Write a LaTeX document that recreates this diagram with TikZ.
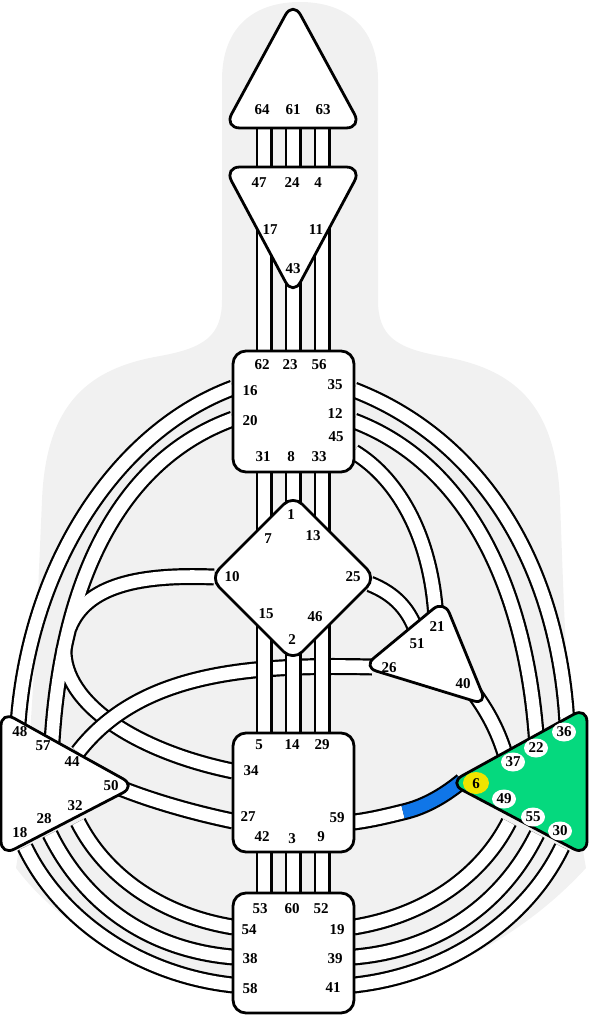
\documentclass[tikz,border=0pt]{standalone}
\usepackage{fontspec}
\setmainfont{Liberation Serif}
\definecolor{bodygray}{RGB}{241,241,241}
\definecolor{spgreen}{RGB}{5,217,126}
\definecolor{gateyellow}{RGB}{240,228,0}
\definecolor{chblue}{RGB}{16,118,232}
\begin{document}
\begin{tikzpicture}[x=1pt,y=-1pt,
  chB/.style={line width=17pt,draw=black},
  chW/.style={line width=12.6pt,draw=white},
  ch/.style={line width=12.6pt,draw=white,preaction={draw=black,line width=17pt}},
  ctr/.style={draw=black,line width=2.8pt,fill=white,line join=round},
  lab/.style={font=\fontsize{15}{15}\selectfont\bfseries,inner sep=0pt}]
\useasboundingbox (0,0) rectangle (594,1024);
% body silhouette
\fill[bodygray] (222,300) -- (222,80) .. controls (222,25) and (256,2) .. (300,2)
  .. controls (344,2) and (378,25) .. (378,80) -- (378,300)
  .. controls (378,336) and (396,348) .. (440,356)
  .. controls (512,368) and (556,402) .. (560,500)
  .. controls (565,640) and (570,780) .. (586,868)
  .. controls (520,940) and (420,995) .. (300,1000)
  .. controls (180,995) and (70,940) .. (16,868)
  .. controls (30,780) and (36,640) .. (42,500)
  .. controls (46,402) and (90,368) .. (160,356)
  .. controls (204,348) and (222,336) .. (222,300) -- cycle;
% gate anchor coordinates
\coordinate (g16) at (233,388); \coordinate (g48) at (18,724);
\coordinate (g20) at (233,419); \coordinate (g57) at (52,742);
\coordinate (g10) at (214,577); \coordinate (g34) at (233,771);
\coordinate (g26) at (372,667); \coordinate (g44) at (78,752);
\coordinate (g27) at (233,821); \coordinate (g50) at (120,788);
\coordinate (g54) at (233,927); \coordinate (g32) at (78,822);
\coordinate (g38) at (233,957); \coordinate (g28) at (50,834);
\coordinate (g58) at (233,985); \coordinate (g18) at (25,847);
\coordinate (g19) at (354,927); \coordinate (g49) at (509,822);
\coordinate (g39) at (354,957); \coordinate (g55) at (537,834);
\coordinate (g41) at (354,985); \coordinate (g30) at (562,847);
\coordinate (g59) at (354,822); \coordinate (g6) at (462,781);
\coordinate (m59) at (403,812);
\coordinate (g35) at (354,390); \coordinate (g36) at (567,724);
\coordinate (g12) at (354,421); \coordinate (g22) at (537,748);
\coordinate (g45) at (354,452); \coordinate (g21) at (436,620);
\coordinate (g25) at (370,584); \coordinate (g51) at (418,636);
\coordinate (g40) at (474,693); \coordinate (g37) at (508,764);
% integration channels (merged)
\draw[chB] (g20) .. controls (120,460) and (62,580) .. (g57);
\draw[chB] (g10) .. controls (140,574) and (86,585) .. (69,628);
\draw[chB] (64,648) .. controls (62,705) and (140,752) .. (g34);
\draw[chW] (g20) .. controls (120,460) and (62,580) .. (g57);
\draw[chW] (g10) .. controls (140,574) and (86,585) .. (69,628);
\draw[chW] (64,648) .. controls (62,705) and (140,752) .. (g34);
% left outer
\draw[ch] (g16) .. controls (120,430) and (30,560) .. (g48);
% 26-44
\draw[ch] (g26) .. controls (250,664) and (140,672) .. (g44);
% 27-50
\draw[ch] (g27) .. controls (190,812) and (150,800) .. (g50);
% root to spleen
\draw[ch] (g54) .. controls (160,915) and (105,875) .. (g32);
\draw[ch] (g38) .. controls (150,950) and (85,905) .. (g28);
\draw[ch] (g58) .. controls (140,975) and (60,920) .. (g18);
% root to solar plexus
\draw[ch] (g19) .. controls (427,915) and (482,875) .. (g49);
\draw[ch] (g39) .. controls (437,950) and (502,905) .. (g55);
\draw[ch] (g41) .. controls (447,975) and (527,920) .. (g30);
% throat to solar plexus / heart
\draw[ch] (g35) .. controls (478,438) and (558,560) .. (g36);
\draw[ch] (g12) .. controls (462,462) and (527,580) .. (g22);
\draw[ch] (g45) .. controls (400,480) and (432,540) .. (g21);
\draw[ch] (g25) .. controls (395,594) and (410,610) .. (g51);
\draw[ch] (g40) .. controls (490,715) and (500,735) .. (g37);
% 59-6 half defined
\draw[chB] (g59) .. controls (370,820) and (387,816) .. (m59) .. controls (425,807) and (445,795) .. (g6);
\draw[chW] (g59) .. controls (370,820) and (387,816) .. (m59);
\draw[line width=12.6pt,draw=chblue] (m59) .. controls (425,807) and (445,795) .. (g6);
% vertical channels
\foreach \x/\a/\b/\ya/\yb in {264/64/47/118/185, 293/61/24/118/185, 322/63/4/118/185,
   264/17/62/215/360, 293/43/23/280/360, 322/11/56/215/360,
   264/31/7/465/545, 293/8/1/465/510, 322/33/13/465/545,
   264/15/5/610/740, 293/2/14/650/740, 322/46/29/610/740,
   264/42/53/845/900, 293/3/60/845/900, 322/9/52/845/900}
  {\coordinate (v\a) at (\x,\ya); \coordinate (v\b) at (\x,\yb);
   \draw[ch] (v\a) -- (v\b);}
% centers
\draw[ctr,rounded corners=16pt] (293,1) -- (362,128) -- (224,128) -- cycle;
\draw[ctr,rounded corners=16pt] (224,167) -- (362,167) -- (293,296) -- cycle;
\draw[ctr,rounded corners=13pt] (233,351) rectangle (354,472);
\draw[ctr,rounded corners=13pt] (293,495) -- (376,578) -- (293,661) -- (210,578) -- cycle;
\draw[ctr,rounded corners=14pt] (444,600) -- (487,705) -- (363,667) -- cycle;
\draw[ctr,rounded corners=15pt] (1,711) -- (136,786) -- (1,856) -- cycle;
\draw[ctr,fill=spgreen,rounded corners=15pt] (587,707) -- (587,856) -- (449,783) -- cycle;
\draw[ctr,rounded corners=13pt] (233,733) rectangle (354,852);
\draw[ctr,rounded corners=13pt] (233,893) rectangle (354,1013);
% solar plexus gate discs
\foreach \x/\y in {564/732, 536/748, 513/762, 504/799, 533/817, 560/831}
  \fill[white] (\x,\y) ellipse [x radius=12pt, y radius=9.5pt];
\fill[gateyellow] (476,783) ellipse [x radius=13pt, y radius=11pt];
% labels
\foreach \n/\x/\y in {64/262/110, 61/293/110, 63/323/110,
  47/259/183, 24/292/183, 4/318/183, 17/270/230, 11/316/230, 43/293/269,
  62/262/365, 23/290/365, 56/319/365, 16/250/391, 20/250/421, 35/335/385, 12/335/414, 45/336/437,
  31/263/457, 8/291/457, 33/319/457,
  1/291/515, 7/268/539, 13/313/536, 10/232/577, 25/353/577, 15/266/614, 46/315/617, 2/292/640,
  21/437/627, 51/417/644, 26/389/668, 40/463/684,
  48/20/732, 57/43/746, 44/72/762, 50/111/786, 32/75/806, 28/44/819, 18/20/833,
  36/564/732, 22/536/748, 37/513/762, 6/476/784, 49/504/799, 55/533/817, 30/560/831,
  5/259/745, 14/292/745, 29/322/745, 34/251/771, 27/248/817, 42/262/837, 3/292/839, 9/321/837, 59/337/818,
  53/260/909, 60/292/909, 52/321/909, 54/249/930, 38/250/959, 58/250/989, 19/337/930, 39/335/959, 41/333/988}
  \node[lab] (l\n) at (\x,\y) {\n};
\end{tikzpicture}
\end{document}
